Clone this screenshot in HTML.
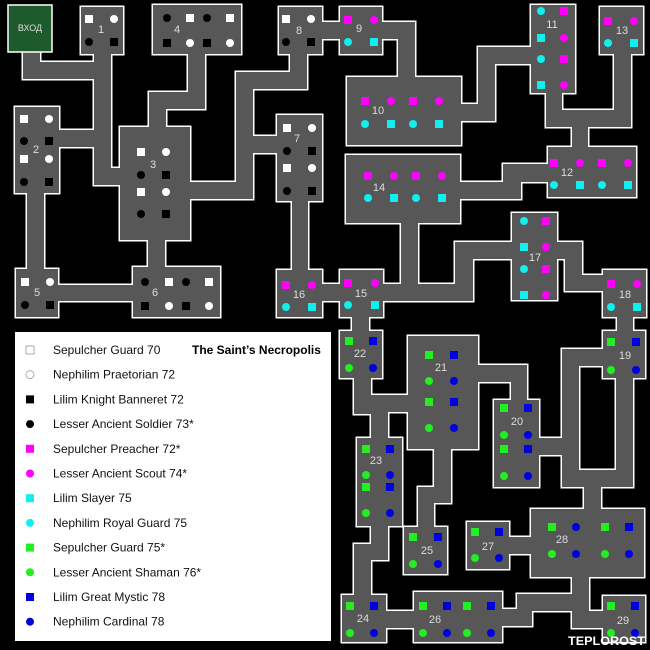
<!DOCTYPE html>
<html><head><meta charset="utf-8"><style>
html,body{margin:0;padding:0;background:#000;width:650px;height:650px;overflow:hidden}
svg{display:block}
text{font-family:"Liberation Sans",sans-serif}
</style></head><body>
<svg id="m" width="650" height="650" viewBox="0 0 650 650" xmlns="http://www.w3.org/2000/svg">
<rect width="650" height="650" fill="#000"/>
<defs><g id="s"></g></defs>
<use href="#s" fill="#fff" stroke="#fff" stroke-width="3"/>
<use href="#s" fill="#575757"/>
<rect x="8" y="5" width="44" height="47" fill="#1d5a2c" stroke="#fff" stroke-width="1.5"/>
<text x="30" y="31" font-size="9" fill="#ddd" text-anchor="middle">ВХОД</text>
<g id="mk"></g>
<rect x="15" y="332" width="316" height="309" fill="#fff"/>
<text x="192" y="354" font-size="12" font-weight="bold" fill="#000">The Saint’s Necropolis</text>
<g id="lg" font-size="12" fill="#111"></g>
<text x="568" y="645" font-size="12" font-weight="bold" fill="#fff" font-family="Liberation Mono" textLength="77" lengthAdjust="spacingAndGlyphs">TEPLOROST</text>
</svg>
<script>
var NS="http://www.w3.org/2000/svg";
var R=[[81,7,123,54],[153,5,241,54],[279,7,322,54],[340,7,382,54],[15,107,59,193],[120,127,190,240],[277,115,322,201],[16,269,58,317],[133,267,220,317],[277,270,322,317],[340,270,383,317],[347,77,461,145],[531,5,575,93],[600,7,643,54],[346,155,460,223],[548,147,636,197],[512,213,557,300],[603,270,646,317],[340,331,382,378],[408,336,478,449],[494,400,539,487],[603,331,645,378],[357,438,402,526],[404,527,447,574],[467,522,509,569],[531,509,644,577],[342,595,386,642],[414,592,502,642],[603,596,645,642],
[23,52,40,79],[23,62,111,79],[94,54,111,185],[59,130,111,147],[94,168,120,185],[27,193,44,270],[58,285,133,301],[148,240,165,267],[188,54,205,109],[149,92,205,109],[149,92,166,127],[190,182,253,199],[236,72,253,199],[236,72,307,89],[290,54,307,89],[253,136,277,153],[292,201,308,270],[322,22,340,39],[322,284,340,301],[382,22,415,39],[398,22,415,77],[461,104,495,121],[478,47,495,121],[478,47,531,64],[546,93,562,127],[546,110,631,127],[614,54,631,127],[572,127,588,147],[460,182,521,199],[503,164,548,182],[401,223,418,301],[383,284,473,301],[455,242,473,301],[455,242,512,259],[556,242,582,259],[565,242,582,291],[565,275,603,291],[352,317,369,331],[617,317,633,331],[354,378,371,414],[354,395,408,412],[371,395,388,438],[478,365,527,382],[511,365,527,400],[434,449,451,503],[418,487,451,503],[418,487,434,527],[371,526,388,560],[354,544,388,560],[354,544,371,595],[386,611,414,628],[502,609,532,626],[517,594,589,611],[572,577,589,628],[572,611,603,628],[509,537,531,554],[539,438,579,455],[562,349,579,487],[562,349,603,366],[616,378,633,487],[562,470,633,487],[584,487,601,509]];
var g=document.getElementById('s');
R.forEach(function(r){var e=document.createElementNS(NS,'rect');e.setAttribute('x',r[0]);e.setAttribute('y',r[1]);e.setAttribute('width',r[2]-r[0]);e.setAttribute('height',r[3]-r[1]);g.appendChild(e);});
var C={W:'#fff',B:'#000',P:'#f0f',C:'#1ee',G:'#2e2',U:'#00d'};
var mk=document.getElementById('mk');
function m(t,x,y,p){var e;if(t[1]=='S'){e=document.createElementNS(NS,'rect');e.setAttribute('x',x-4);e.setAttribute('y',y-4);e.setAttribute('width',8);e.setAttribute('height',8);}else{e=document.createElementNS(NS,'circle');e.setAttribute('cx',x);e.setAttribute('cy',y);e.setAttribute('r',4);}e.setAttribute('fill',C[t[0]]);if(p&&t[0]=='W'){e.setAttribute('fill','#fff');e.setAttribute('stroke','#999');e.setAttribute('stroke-width','0.8');}(p||mk).appendChild(e);}
function lab(s,x,y){var e=document.createElementNS(NS,'text');e.setAttribute('x',x);e.setAttribute('y',y+4);e.setAttribute('font-size','11');e.setAttribute('fill','#ddd');e.setAttribute('text-anchor','middle');e.textContent=s;mk.appendChild(e);}
function room(n,lx,ly,xs,ys,types){var k=0;for(var j=0;j<ys.length;j++)for(var i=0;i<xs.length;i++){m(types[k++],xs[i],ys[j]);}lab(n,lx,ly);}
room('1',101,29,[89,114],[19,42],['WS','WC','BC','BS']);
room('4',177,29,[167,190,207,230],[18,43],['BC','WS','BC','WS','BS','WC','BS','WC']);
room('8',299,30,[286,311],[19,42],['WS','WC','BC','BS']);
room('9',359,28,[348,374],[20,42],['PS','PC','CC','CS']);
room('2',36,149,[24,49],[119,141,159,182],['WS','WC','BC','BS','WS','WC','BC','BS']);
room('3',153,164,[141,166],[152,175,192,214],['WS','WC','BC','BS','WS','WC','BC','BS']);
room('7',297,138,[287,312],[128,151,168,191],['WS','WC','BC','BS','WS','WC','BC','BS']);
room('5',37,292,[25,50],[282,305],['WS','WC','BC','BS']);
room('6',155,292,[145,169,186,209],[282,306],['BC','WS','BC','WS','BS','WC','BS','WC']);
room('16',299,294,[286,312],[285,307],['PS','PC','CC','CS']);
room('15',361,293,[348,375],[283,305],['PS','PC','CC','CS']);
room('10',378,110,[365,391,413,439],[101,124],['PS','PC','PS','PC','CC','CS','CC','CS']);
room('11',552,24,[541,564],[11,38,59,85],['CC','PS','CS','PC','CC','PS','CS','PC']);
room('13',622,30,[608,634],[21,43],['PS','PC','CC','CS']);
room('14',379,187,[368,394,416,442],[176,198],['PS','PC','PS','PC','CC','CS','CC','CS']);
room('12',567,172,[554,580,602,628],[163,185],['PS','PC','PS','PC','CC','CS','CC','CS']);
room('17',535,257,[524,546],[221,247,269,295],['CC','PS','CS','PC','CC','PS','CS','PC']);
room('18',625,294,[611,637],[284,307],['PS','PC','CC','CS']);
room('22',360,353,[349,373],[341,368],['GS','US','GC','UC']);
room('21',441,367,[429,454],[355,381,402,428],['GS','US','GC','UC','GS','US','GC','UC']);
room('20',517,421,[504,528],[408,435,449,476],['GS','US','GC','UC','GS','US','GC','UC']);
room('19',625,355,[611,636],[342,370],['GS','US','GC','UC']);
room('23',376,460,[366,390],[449,475,487,513],['GS','US','GC','UC','GS','US','GC','UC']);
room('25',427,550,[413,438],[537,564],['GS','US','GC','UC']);
room('27',488,546,[475,499],[532,558],['GS','US','GC','UC']);
room('28',562,539,[552,576,605,629],[527,554],['GS','UC','GS','US','GC','UC','GC','UC']);
room('24',363,618,[350,374],[606,633],['GS','US','GC','UC']);
room('26',435,619,[423,447,467,491],[606,633],['GS','US','GS','US','GC','UC','GC','UC']);
room('29',623,620,[611,635],[606,633],['GS','US','GC','UC']);
var L=[['WS','Sepulcher Guard 70'],['WC','Nephilim Praetorian 72'],['BS','Lilim Knight Banneret 72'],['BC','Lesser Ancient Soldier 73*'],['PS','Sepulcher Preacher 72*'],['PC','Lesser Ancient Scout 74*'],['CS','Lilim Slayer 75'],['CC','Nephilim Royal Guard 75'],['GS','Sepulcher Guard 75*'],['GC','Lesser Ancient Shaman 76*'],['US','Lilim Great Mystic 78'],['UC','Nephilim Cardinal 78']];
var lg=document.getElementById('lg');
L.forEach(function(l,i){var y=350+i*24.7;m(l[0],30,y,lg);var t=document.createElementNS(NS,'text');t.setAttribute('x',53);t.setAttribute('y',y+4);t.textContent=l[1];lg.appendChild(t);});
</script>
</body></html>
